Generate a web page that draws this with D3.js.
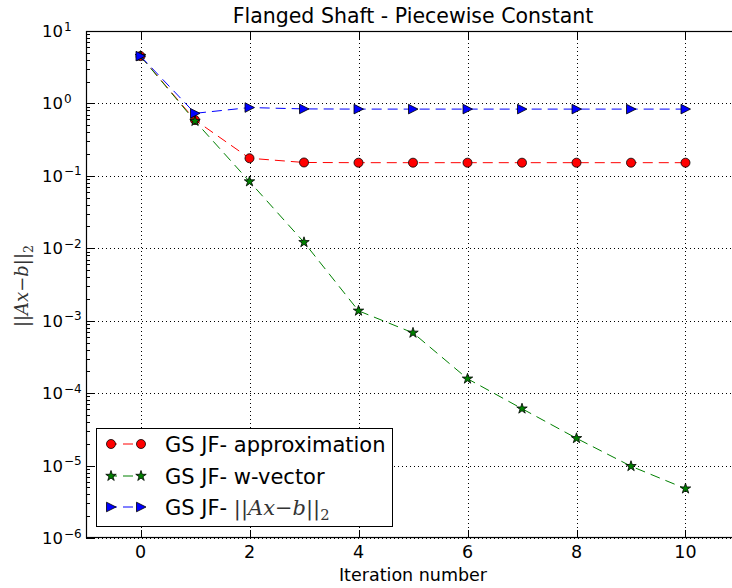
<!DOCTYPE html>
<html>
<head>
<meta charset="utf-8">
<script src="https://cdn.jsdelivr.net/npm/d3@7"></script>
<style>
  html, body { margin: 0; padding: 0; background: #fff; }
  svg { display: block; }
  text { font-family: "DejaVu Sans", sans-serif; fill: #000; }
  .math { font-family: "DejaVu Serif", "Liberation Serif", serif; }
</style>
</head>
<body>
<svg id="chart" width="732" height="588"></svg>
<script>
// Residual history of the three solver variants per iteration
const iterations = [0, 1, 2, 3, 4, 5, 6, 7, 8, 9, 10];
const approximation = [4.5, 0.59, 0.175, 0.153, 0.152, 0.152, 0.152, 0.152, 0.152, 0.152, 0.152];
const wVector = [4.5, 0.57, 0.0835, 0.0121, 0.00137, 0.00068, 0.000158, 0.000061, 0.0000238, 0.0000098, 0.0000048];
const residual = [4.5, 0.73, 0.877, 0.84, 0.835, 0.835, 0.835, 0.835, 0.835, 0.835, 0.835];
const xTicks = [0, 2, 4, 6, 8, 10];
const yExponents = [1, 0, -1, -2, -3, -4, -5, -6];

const svg = d3.select("#chart");
const plotLeft = 86, plotRight = 740, plotTop = 31, plotBottom = 538;

const x = d3.scaleLinear().domain([-1, 11]).range([plotLeft, plotRight]);
const y = d3.scaleLog().domain([1e-6, 1e1]).range([plotBottom, plotTop]);

// Grid (dotted, at major ticks)
const grid = svg.append("g").attr("stroke", "#000").attr("stroke-width", 1)
  .attr("stroke-dasharray", "1,3").attr("fill", "none");
xTicks.forEach(t => {
  const px = Math.round(x(t)) + 0.5;
  grid.append("line").attr("x1", px).attr("x2", px).attr("y1", plotTop).attr("y2", plotBottom);
});
yExponents.forEach(e => {
  const py = Math.round(y(Math.pow(10, e))) + 0.5;
  grid.append("line").attr("x1", plotLeft).attr("x2", plotRight).attr("y1", py).attr("y2", py);
});

// Ticks pointing inward on all four sides
const ticks = svg.append("g").attr("stroke", "#000").attr("stroke-width", 1);
xTicks.forEach(t => {
  const px = Math.round(x(t)) + 0.5;
  ticks.append("line").attr("x1", px).attr("x2", px).attr("y1", plotBottom).attr("y2", plotBottom - 8);
  ticks.append("line").attr("x1", px).attr("x2", px).attr("y1", plotTop).attr("y2", plotTop + 8);
});
const minorVals = [];
for (let e = -6; e < 1; e++) for (let m = 2; m <= 9; m++) minorVals.push(m * Math.pow(10, e));
minorVals.forEach(v => {
  const py = Math.round(y(v)) + 0.5;
  ticks.append("line").attr("x1", plotLeft).attr("x2", plotLeft + 4).attr("y1", py).attr("y2", py);
  ticks.append("line").attr("x1", plotRight).attr("x2", plotRight - 4).attr("y1", py).attr("y2", py);
});
yExponents.forEach(e => {
  const py = Math.round(y(Math.pow(10, e))) + 0.5;
  ticks.append("line").attr("x1", plotLeft).attr("x2", plotLeft + 8).attr("y1", py).attr("y2", py);
  ticks.append("line").attr("x1", plotRight).attr("x2", plotRight - 8).attr("y1", py).attr("y2", py);
});

// Tick labels
const xl = svg.append("g");
xTicks.forEach(t => {
  xl.append("text").attr("x", x(t)).attr("y", 558).attr("text-anchor", "middle")
    .attr("font-size", 17.5).text(t);
});
const yl = svg.append("g");
yExponents.forEach(e => {
  const py = y(Math.pow(10, e));
  yl.append("text").attr("x", 63).attr("y", py + 6).attr("text-anchor", "end")
    .attr("font-size", 16.5).text("10");
  yl.append("text").attr("x", 64).attr("y", py - 0.5).attr("text-anchor", "start")
    .attr("font-size", 12).text(e < 0 ? "\u2212" + (-e) : String(e));
});

// Series
const symbolCircle = d3.symbol().type(d3.symbolCircle).size(64);
const symbolStar = d3.symbol().type(d3.symbolStar).size(34);
const triRight = "M-4.5,-4.8L5,0L-4.5,4.8Z";

const series = [
  { name: "approximation", values: approximation, color: "#ff0000", marker: symbolCircle() },
  { name: "w-vector", values: wVector, color: "#008000", marker: symbolStar() },
  { name: "residual", values: residual, color: "#0000ff", marker: triRight }
];

const line = d3.line().x((d, i) => x(iterations[i])).y(d => y(d));

series.forEach(s => {
  const g = svg.append("g");
  g.append("path").datum(s.values).attr("d", line).attr("fill", "none")
    .attr("stroke", s.color).attr("stroke-width", 1).attr("stroke-dasharray", "10,6");
  g.selectAll("path.mk").data(s.values).enter().append("path").attr("class", "mk")
    .attr("d", s.marker)
    .attr("transform", (d, i) => `translate(${x(iterations[i])},${y(d)})`)
    .attr("fill", s.color).attr("stroke", "#000").attr("stroke-width", 0.8);
});

// Frame
svg.append("rect").attr("x", plotLeft + 0.5).attr("y", plotTop + 0.5)
  .attr("width", plotRight - plotLeft - 1).attr("height", plotBottom - plotTop - 1)
  .attr("fill", "none").attr("stroke", "#000").attr("stroke-width", 1.2);

// Title and axis labels
svg.append("text").attr("x", (plotLeft + plotRight) / 2).attr("y", 23).attr("text-anchor", "middle")
  .attr("font-size", 20.5).text("Flanged Shaft - Piecewise Constant");
svg.append("text").attr("x", 413).attr("y", 581).attr("text-anchor", "middle")
  .attr("font-size", 17.5).text("Iteration number");

function normLabel(sel, size) {
  sel.append("tspan").text("||");
  sel.append("tspan").attr("font-style", "italic").text("Ax");
  sel.append("tspan").text("\u2212");
  sel.append("tspan").attr("font-style", "italic").text("b");
  sel.append("tspan").text("||");
  sel.append("tspan").attr("font-size", size * 0.7).attr("dy", size * 0.25).text("2");
}
const ylab = svg.append("text").attr("class", "math")
  .attr("transform", "translate(28,286) rotate(-90)")
  .attr("text-anchor", "middle").attr("font-size", 18).style("fill", "#333");
normLabel(ylab, 18);

// Legend
const lg = svg.append("g");
lg.append("rect").attr("x", 96.5).attr("y", 428.5).attr("width", 296).attr("height", 98)
  .attr("fill", "#fff").attr("stroke", "#000").attr("stroke-width", 1);
const labels = ["GS JF- approximation", "GS JF- w-vector", "GS JF- "];
const rowY = [444, 476, 507];
series.forEach((s, i) => {
  const ry = rowY[i];
  lg.append("line").attr("x1", 111).attr("x2", 141).attr("y1", ry).attr("y2", ry)
    .attr("stroke", s.color).attr("stroke-width", 1).attr("stroke-dasharray", "10,6")
    .attr("stroke-dashoffset", -12);
  [111, 141].forEach(mx => {
    lg.append("path").attr("d", s.marker).attr("transform", `translate(${mx},${ry})`)
      .attr("fill", s.color).attr("stroke", "#000").attr("stroke-width", 0.8);
  });
  const t = lg.append("text").attr("x", 165).attr("y", ry + 7.5).attr("font-size", 21).text(labels[i]);
  if (i === 2) {
    const m = t.append("tspan").attr("class", "math").style("fill", "#333");
    normLabel(m, 21);
  }
});
</script>
</body>
</html>
